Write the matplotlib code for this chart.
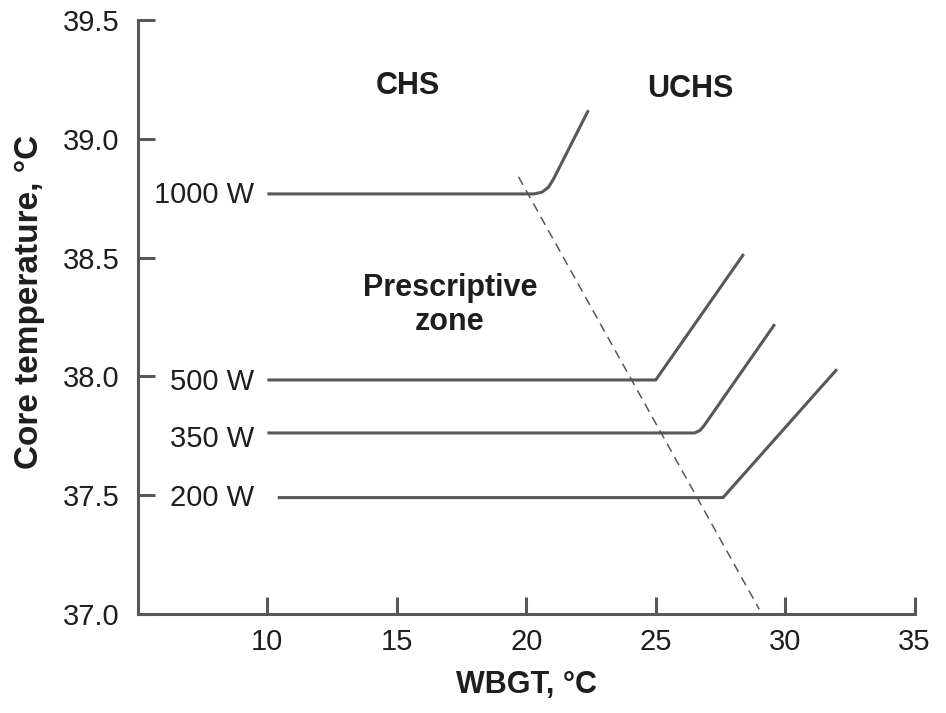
import matplotlib.pyplot as plt

# curves (WBGT in degC, core temperature in degC)
w1000_x = [10.0, 20.3, 20.6, 20.85, 21.05, 22.4]
w1000_y = [38.768, 38.768, 38.775, 38.795, 38.83, 39.12]
w500_x = [10.0, 25.0, 28.4]
w500_y = [37.985, 37.985, 38.515]
w350_x = [10.0, 26.5, 26.7, 26.85, 29.6]
w350_y = [37.762, 37.762, 37.772, 37.79, 38.22]
w200_x = [10.4, 27.6, 32.0]
w200_y = [37.49, 37.49, 38.03]
limit_x = [19.7, 29.0]
limit_y = [38.84, 37.02]

curve_labels = ['1000 W', '500 W', '350 W', '200 W']
label_y = [38.765, 37.975, 37.735, 37.49]

xticks = [10, 15, 20, 25, 30, 35]
yticks = [37.0, 37.5, 38.0, 38.5, 39.0, 39.5]

plt.rcParams['font.family'] = ['Liberation Sans', 'DejaVu Sans']

fig = plt.figure(figsize=(9.46, 7.13), dpi=100)
ax = fig.add_axes([0.1458, 0.1388, 0.821, 0.8332])

gray = '#585858'
txt = '#1e1e1e'

for xs, ys in [(w1000_x, w1000_y), (w500_x, w500_y), (w350_x, w350_y), (w200_x, w200_y)]:
    ax.plot(xs, ys, color=gray, lw=2.2, solid_joinstyle='round', solid_capstyle='butt')

ax.plot(limit_x, limit_y, color=gray, lw=1.1, ls=(0, (6, 4)))

for lab, y in zip(curve_labels, label_y):
    ax.text(9.5, y, lab, ha='right', va='center', fontsize=21, color=txt)

ax.text(15.42, 39.222, 'CHS', ha='center', va='center', fontsize=22, fontweight='bold', color=txt)
ax.text(26.33, 39.21, 'UCHS', ha='center', va='center', fontsize=22, fontweight='bold', color=txt)
ax.text(17.05, 38.3, 'Prescriptive\nzone', ha='center', va='center', fontsize=22,
        fontweight='bold', color=txt, linespacing=1.15)

ax.set_xlim(5, 35)
ax.set_ylim(37.0, 39.5)
ax.set_xticks(xticks)
ax.set_yticks(yticks)
ax.set_yticklabels([f'{v:.1f}' for v in yticks])

for s in ['top', 'right']:
    ax.spines[s].set_visible(False)
for s in ['left', 'bottom']:
    ax.spines[s].set_color(gray)
    ax.spines[s].set_linewidth(2.2)

ax.tick_params(direction='in', length=12, width=2.2, color=gray, labelsize=21, labelcolor=txt)
ax.tick_params(axis='x', pad=10)
ax.tick_params(axis='y', pad=13)

ax.set_xlabel('WBGT, °C', fontsize=22, fontweight='bold', color=txt, labelpad=10)
ax.set_ylabel('Core temperature, °C', fontsize=24, fontweight='bold', color=txt)
ax.yaxis.set_label_coords(-0.12, 0.525)

fig.savefig('out.png', dpi=100)
